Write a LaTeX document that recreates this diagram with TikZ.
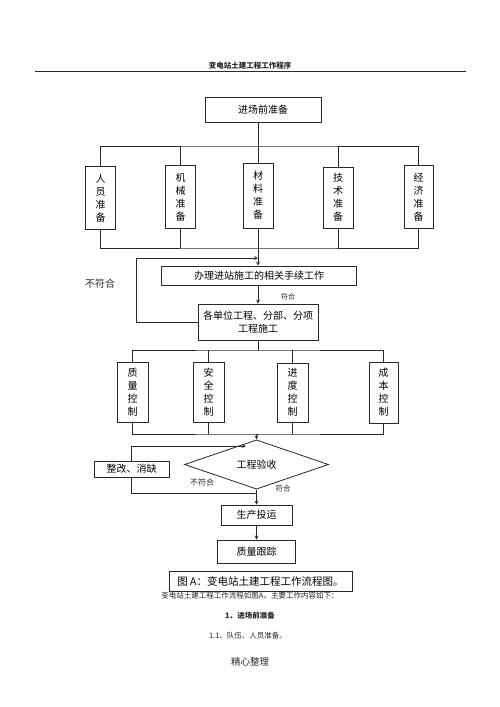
\documentclass[tikz,border=0pt]{standalone}
\usepackage{fontspec}
\setmainfont{Noto Sans CJK SC}
\usepackage{xcolor}
\usetikzlibrary{shapes.geometric}
\definecolor{flowdark}{RGB}{40, 40, 40}
\tikzstyle{arrow}=[->, >=stealth, color=flowdark, line width=0.8pt]
\tikzstyle{line}=[color=flowdark, line width=0.8pt]
\tikzstyle{box}=[draw=flowdark, line width=0.8pt, inner sep=0pt, align=center, font=\fontsize{10}{13}\selectfont]
\tikzstyle{tallbox}=[box, minimum width=30pt, minimum height=63pt]
\tikzstyle{note}=[inner sep=0pt, text=flowdark]

\begin{document}
\begin{tikzpicture}[x=1pt, y=-1pt]
    \useasboundingbox[fill=white] (0,0) rectangle (500,707);

    % Header
    \node[note, font=\fontsize{7.5}{9}\selectfont\bfseries] (title) at (250, 66) {变电站土建工程工作程序};
    \coordinate (ruleL) at (35, 71);
    \coordinate (ruleR) at (466, 71);
    \draw[line] (ruleL) -- (ruleR);

    % Preparation
    \node[box, minimum width=116pt, minimum height=25pt] (prep) at (263, 110) {进场前准备};
    \node[tallbox] (staff) at (100.7, 198) {人\\员\\准\\备};
    \node[tallbox] (mach) at (180.5, 197) {机\\械\\准\\备};
    \node[tallbox, minimum height=65pt] (mat) at (258, 195.5) {材\\料\\准\\备};
    \node[tallbox, minimum height=61pt] (tech) at (338, 197.5) {技\\术\\准\\备};
    \node[tallbox, minimum width=29pt] (econ) at (418.5, 197) {经\\济\\准\\备};

    \coordinate (topbus) at (258, 146);
    \coordinate (botbus) at (258, 248);
    \draw[line] (mat.north |- prep.south) -- (mat.north);
    \draw[line] (staff.north) |- (topbus) -| (econ.north);
    \draw[line] (mach.north) -- (mach.north |- topbus);
    \draw[line] (tech.north) -- (tech.north |- topbus);
    \draw[line] (staff.south) |- (botbus) -| (econ.south);
    \draw[line] (mach.south) -- (mach.south |- botbus);
    \draw[line] (tech.south) -- (tech.south |- botbus);

    % Permits and construction
    \node[box, minimum width=195pt, minimum height=19pt] (permit) at (259, 275.5) {办理进站施工的相关手续工作};
    \node[box, minimum width=120pt, minimum height=36pt] (work) at (258, 322) {各单位工程、分部、分项\\工程施工};
    \draw[arrow] (mat.south) -- (mat.south |- permit.north);
    \draw[arrow] (work.north |- permit.south) -- (work.north);
    \node[note, font=\fontsize{7}{8}\selectfont] (ok1) at (288, 297) {符合};

    \coordinate (fb1) at (136, 258);
    \draw[arrow] (work.west) -| (fb1) -- (fb1 -| mat.south);
    \node[note, font=\fontsize{10}{12}\selectfont] (nok1) at (100, 284) {不符合};

    % Controls
    \node[tallbox, minimum width=31pt, minimum height=60pt] (qual) at (132.5, 392) {质\\量\\控\\制};
    \node[tallbox, minimum width=31pt, minimum height=60pt] (safe) at (208.5, 392) {安\\全\\控\\制};
    \node[tallbox, minimum width=31pt, minimum height=59pt] (prog) at (292.5, 392.5) {进\\度\\控\\制};
    \node[tallbox, minimum width=29pt, minimum height=61pt] (cost) at (383.5, 392.5) {成\\本\\控\\制};

    \coordinate (ctlbus) at (258, 350);
    \coordinate (ctlbot) at (258, 434);
    \draw[line] (work.south) -- (ctlbus);
    \draw[line] (qual.north) |- (ctlbus) -| (cost.north);
    \draw[line] (safe.north) -- (safe.north |- ctlbus);
    \draw[line] (prog.north) -- (prog.north |- ctlbus);
    \draw[line] (qual.south) |- (ctlbot) -| (cost.south);
    \draw[line] (safe.south) -- (safe.south |- ctlbot);
    \draw[line] (prog.south) -- (prog.south |- ctlbot);

    % Acceptance
    \node[box, diamond, minimum width=144pt, minimum height=29pt] (check) at (256.5, 464.5) {工程验收};
    \node[box, minimum width=75pt, minimum height=16pt] (fix) at (131.5, 469) {整改、消缺};
    \draw[arrow] (ctlbot) -- (check.north |- ctlbot) -- (check.north);

    \coordinate (fb2) at (246, 446);
    \coordinate (fb3) at (256.5, 493);
    \draw[arrow] (fix.north) |- (fb2);
    \draw[line] (fix.south) |- (fb3);
    \node[note, font=\fontsize{8}{9}\selectfont] (nok2) at (202, 482) {不符合};
    \node[note, font=\fontsize{7.5}{9}\selectfont] (ok2) at (283, 489) {符合};

    % Operation
    \node[box, minimum width=71pt, minimum height=20pt] (run) at (256.5, 515) {生产投运};
    \node[box, minimum width=78pt, minimum height=23pt] (track) at (256.5, 551.5) {质量跟踪};
    \draw[arrow] (check.south) -- (run.north);
    \draw[arrow] (run.south) -- (track.north);

    % Caption and text
    \node[box, minimum width=183pt, minimum height=20pt, font=\fontsize{10.5}{12}\selectfont] (caption) at (260.5, 581) {图 A：变电站土建工程工作流程图。};
    \node[note, font=\fontsize{7.5}{9}\selectfont] (intro) at (250, 596) {变电站土建工程工作流程如图A。主要工作内容如下：};
    \node[note, font=\fontsize{7.5}{9}\selectfont\bfseries] (sec1) at (250, 616) {1、进场前准备};
    \node[note, font=\fontsize{7.5}{9}\selectfont] (sec11) at (248, 636) {1.1、队伍、人员准备。};
    \node[note, font=\fontsize{9.5}{11}\selectfont] (footer) at (250, 662) {精心整理};

\end{tikzpicture}
\end{document}
